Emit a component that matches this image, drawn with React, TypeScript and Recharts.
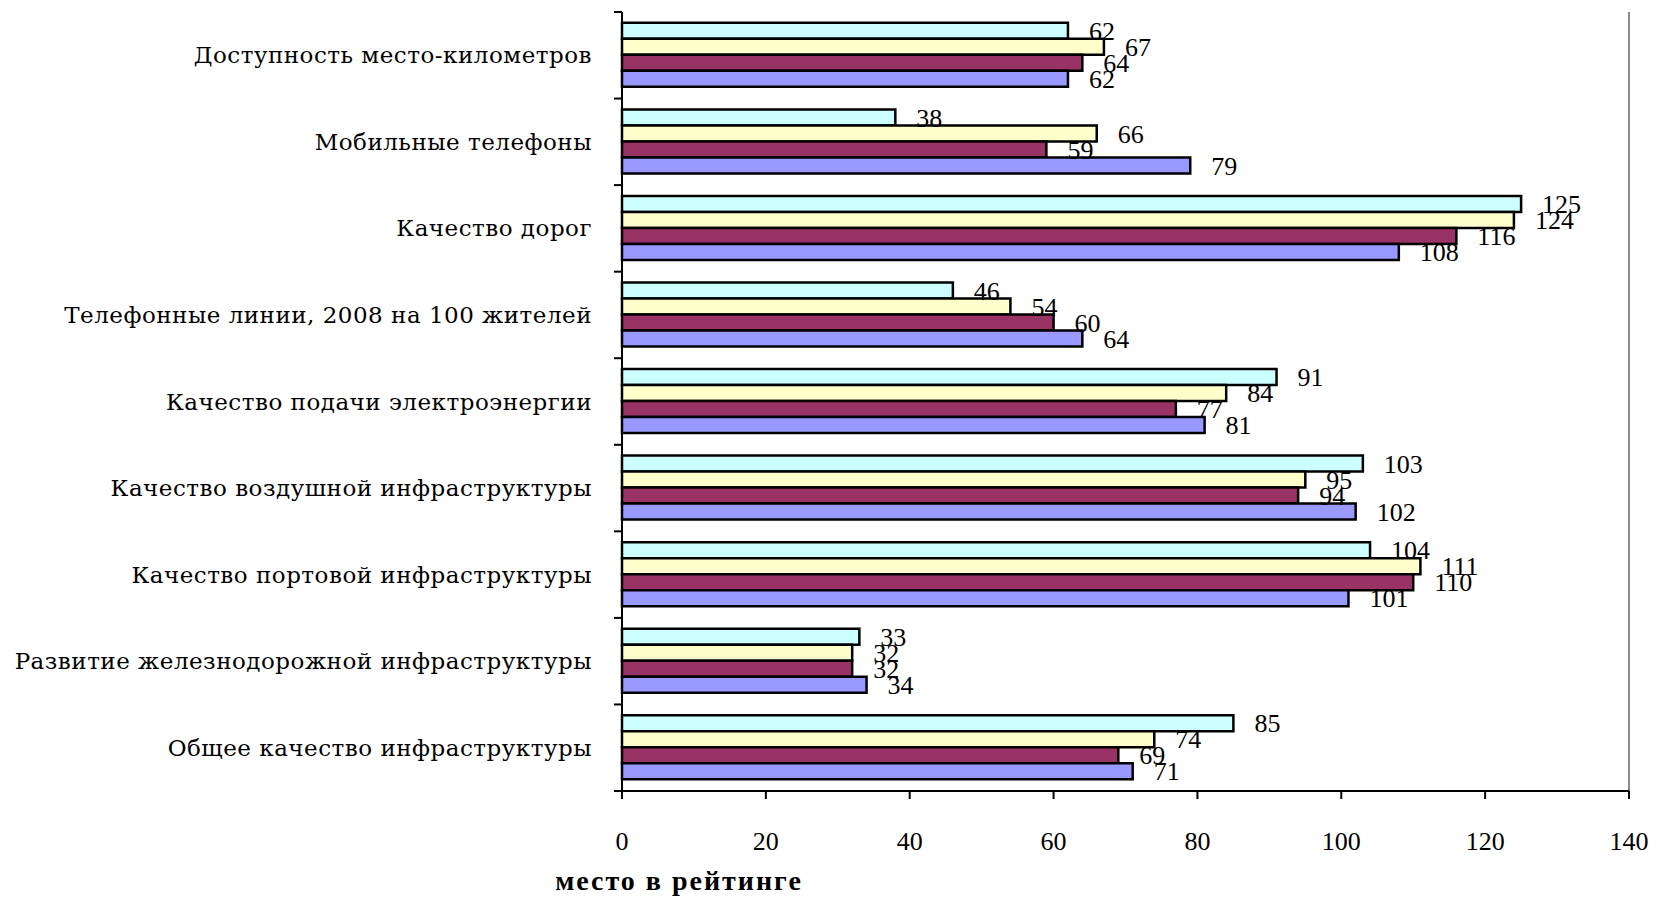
import { BarChart, Bar, XAxis, YAxis, LabelList, ReferenceLine } from "recharts";

const categories = [
  "Доступность место-километров",
  "Мобильные телефоны",
  "Качество дорог",
  "Телефонные линии, 2008 на 100 жителей",
  "Качество подачи электроэнергии",
  "Качество воздушной инфраструктуры",
  "Качество портовой инфраструктуры",
  "Развитие железнодорожной инфраструктуры",
  "Общее качество инфраструктуры",
];

// series top-to-bottom inside each group
const cyanValues = [62, 38, 125, 46, 91, 103, 104, 33, 85];
const yellowValues = [67, 66, 124, 54, 84, 95, 111, 32, 74];
const maroonValues = [64, 59, 116, 60, 77, 94, 110, 32, 69];
const blueValues = [62, 79, 108, 64, 81, 102, 101, 34, 71];

const xTicks = [0, 20, 40, 60, 80, 100, 120, 140];
const axisTitle = "место в рейтинге";

const data = categories.map((name, i) => ({
  name,
  s1: cyanValues[i],
  s2: yellowValues[i],
  s3: maroonValues[i],
  s4: blueValues[i],
}));

const series = [
  { key: "s1", color: "#CCFFFF" },
  { key: "s2", color: "#FFFFCC" },
  { key: "s3", color: "#993366" },
  { key: "s4", color: "#9999FF" },
];

const W = 1656;
const H = 898;
const MARGIN = { top: 12, right: 27, left: 0, bottom: 0 };
const Y_AXIS_W = 622;
const X_AXIS_H = 107;
const PLOT_H = H - MARGIN.top - MARGIN.bottom - X_AXIS_H;
const BAND = PLOT_H / categories.length;

const serif = '"Liberation Serif", "Times New Roman", serif';
const labelFont = '"DejaVu Serif", serif';

function CategoryTick(props: any) {
  const { x, y, payload, index } = props;
  const last = index === categories.length - 1;
  return (
    <g>
      <line x1={x - 8} x2={x} y1={y - BAND / 2} y2={y - BAND / 2} stroke="#000" strokeWidth={2} />
      {last && <line x1={x - 8} x2={x} y1={y + BAND / 2} y2={y + BAND / 2} stroke="#000" strokeWidth={2} />}
      <text
        x={x - 30}
        y={y}
        textAnchor="end"
        dominantBaseline="central"
        fontFamily={labelFont}
        fontSize={23}
        letterSpacing={0.5}
        fill="#000"
      >
        {payload.value}
      </text>
    </g>
  );
}

function AxisTitle(props: any) {
  const { viewBox } = props;
  return (
    <text
      x={viewBox.x + 57}
      y={viewBox.y + 99}
      textAnchor="middle"
      fontFamily={serif}
      fontWeight="bold"
      fontSize={28}
      letterSpacing={2}
      fill="#000"
    >
      {axisTitle}
    </text>
  );
}

export default function App() {
  return (
    <div style={{ position: "absolute", left: 0, top: 0, background: "#fff" }}>
      <BarChart
        width={W}
        height={H}
        data={data}
        layout="vertical"
        margin={MARGIN}
        barCategoryGap="12.5%"
        barGap={0}
      >
        <XAxis
          xAxisId="top"
          orientation="top"
          type="number"
          domain={[0, 140]}
          height={0}
          tick={false}
          tickLine={false}
          axisLine={{ stroke: "#8c8c8c", strokeWidth: 2 }}
        />
        <XAxis
          type="number"
          domain={[0, 140]}
          ticks={xTicks}
          interval={0}
          height={X_AXIS_H}
          tickSize={8}
          tickMargin={33}
          axisLine={{ stroke: "#000", strokeWidth: 2 }}
          tickLine={{ stroke: "#000", strokeWidth: 2 }}
          tick={{ fontSize: 26, fill: "#000", fontFamily: serif }}
          label={<AxisTitle />}
        />
        <YAxis
          type="category"
          dataKey="name"
          width={Y_AXIS_W}
          interval={0}
          tickSize={0}
          tickMargin={0}
          tickLine={false}
          axisLine={{ stroke: "#000", strokeWidth: 2 }}
          tick={<CategoryTick />}
        />
        <ReferenceLine x={140} stroke="#8c8c8c" strokeWidth={2} />
        {series.map((s) => (
          <Bar
            key={s.key}
            dataKey={s.key}
            fill={s.color}
            stroke="#000"
            strokeWidth={2.5}
            isAnimationActive={false}
          >
            <LabelList
              dataKey={s.key}
              position="right"
              offset={21}
              fill="#000"
              stroke="none"
              fontSize={26}
              fontFamily={serif}
            />
          </Bar>
        ))}
      </BarChart>
    </div>
  );
}
